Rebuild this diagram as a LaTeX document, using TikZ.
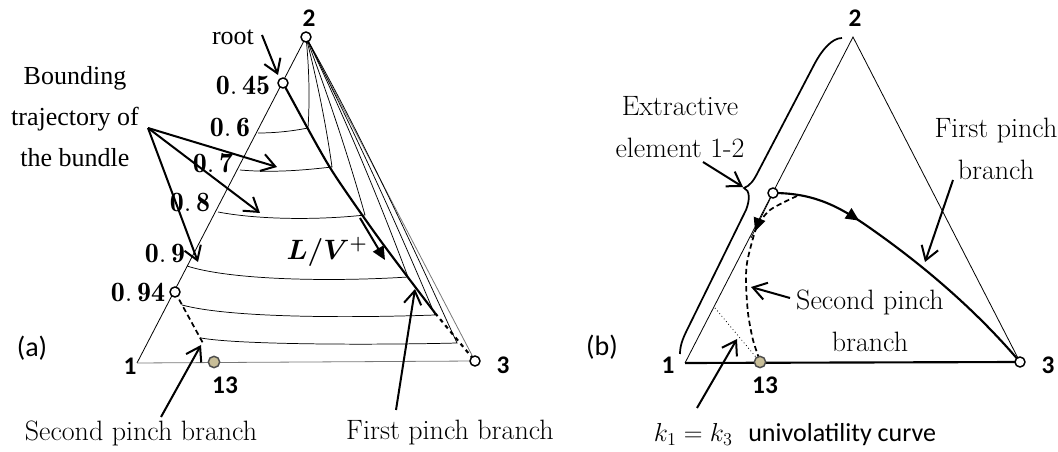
\RequirePackage{fix-cm}
\documentclass[tikz,border=0pt]{standalone}
\usepackage{amsmath,amssymb,bm}
\usepackage{fontspec}
\newfontfamily\timesfont{Liberation Serif}
\newfontfamily\calfont{Carlito}
\usetikzlibrary{arrows.meta,decorations.markings}
\definecolor{azeofill}{RGB}{200,190,152}
\definecolor{edgegray}{RGB}{120,120,120}
\tikzset{
  tri/.style   ={line width=0.6pt},
  traj/.style  ={line width=0.55pt},
  pinch/.style ={line width=1.6pt},
  ptr/.style   ={line width=1.5pt,-{Straight Barb[length=10pt,width=13pt]}},
  flow/.style  ={line width=1.5pt,-{Triangle[length=10pt,width=9pt]}},
  vtx/.style   ={circle,draw,fill=white,line width=1.1pt,inner sep=0pt,minimum size=7.5pt},
  azeo/.style  ={circle,draw=black!70,fill=azeofill,line width=1.1pt,inner sep=0pt,minimum size=8.5pt},
  num/.style   ={font=\fontsize{21}{24}\selectfont,inner sep=0pt},
  vlbl/.style  ={font=\calfont\bfseries\fontsize{19}{22}\selectfont,inner sep=0pt},
  note/.style  ={font=\fontsize{21}{31.5}\selectfont,align=center,inner sep=0pt},
  tnote/.style ={font=\timesfont\fontsize{19.5}{30.75}\selectfont,align=center,inner sep=0pt},
  panel/.style ={font=\calfont\fontsize{21}{24}\selectfont,inner sep=0pt},
}
\begin{document}
\begin{tikzpicture}[x=0.75pt,y=-0.75pt]
  \useasboundingbox (0,0) rectangle (1058,452);
  % (a) residue profile map
  \coordinate (a1) at (137,363);
  \coordinate (a2) at (306,37);
  \coordinate (a3) at (475,361);
  \coordinate (r45) at (283,83);
  \coordinate (p94) at (175,292);
  \coordinate (a13) at (214,362);
  \draw[tri] (a2) -- (a1);
  \draw[tri,edgegray] (a1) -- (a3) -- (a2);
  % bundle of trajectories
  \draw[traj] (258,133) .. controls (280,133) and (298,130) .. (308,128)
     .. controls (310,98) and (309,67) .. (a2);
  \draw[traj] (240,170) .. controls (275,173) and (305,170) .. (332,167)
     .. controls (326,124) and (317,80) .. (a2);
  \draw[traj] (218,212) .. controls (260,220) and (320,220) .. (365,215)
     .. controls (348,155) and (328,95) .. (a2);
  \draw[traj] (187,266) .. controls (230,280) and (330,282) .. (408,277)
     .. controls (378,197) and (344,115) .. (a2);
  \draw[traj] (182,305) .. controls (230,318) and (350,318) .. (435,315)
     .. controls (396,222) and (353,128) .. (a2);
  \draw[traj] (201,338) .. controls (240,345) and (380,345) .. (457,343)
     .. controls (410,240) and (361,135) .. (a2);
  % pinch branches
  \draw[pinch] plot[smooth] coordinates {(283,83) (318,147) (338,180) (380,240) (435,313)};
  \draw[pinch,dashed] (435,313) -- (a3);
  \draw[line width=1.3pt,dash pattern=on 4pt off 2.5pt] (p94) -- (204,345);
  \draw[flow] (360,218) -- (385,260);
  % points
  \node[vtx] (v2a) at (a2) {};
  \node[vtx] (v3a) at (a3) {};
  \node[vtx] (v45) at (r45) {};
  \node[vtx] (v94) at (p94) {};
  \node[azeo] (d13a) at (a13) {};
  % labels
  \node[vlbl] (l1a) at (130,366) {1};
  \node[vlbl] (l2a) at (309,18) {2};
  \node[vlbl] (l3a) at (503,365) {3};
  \node[vlbl] (l13a) at (225,385) {13};
  \node[num] (n45) at (243,85) {$\mathbf{0.\,45}$};
  \node[num] (n60) at (230,127) {$\mathbf{0.\,6}$};
  \node[num] (n70) at (213,163) {$\mathbf{0.\,7}$};
  \node[num] (n80) at (190,202) {$\mathbf{0.\,8}$};
  \node[num] (n90) at (165,253) {$\mathbf{0.\,9}$};
  \node[num] (n94) at (138,292) {$\mathbf{0.\,94}$};
  \node[num] (lv) at (327,252) {$\bm{L/V^{+}}$};
  \node[panel] (pa) at (32,348) {(a)};
  \node[tnote] (root) at (233,37) {root};
  \node[tnote] (bound) at (75,117) {Bounding\\trajectory of\\the bundle};
  \node[note] (spa) at (141,433) {Second pinch branch};
  \node[note] (fpa) at (450,433) {First pinch branch};
  % pointers
  \coordinate (bt) at (148,128);
  \coordinate (t07) at (277,167);
  \coordinate (t08) at (260,213);
  \coordinate (t09) at (198,262);
  \draw[ptr] (bt) -- (t07);
  \draw[ptr] (bt) -- (t08);
  \draw[ptr] (bt) -- (t09);
  \draw[ptr] (262,35) -- (278,75);
  \draw[ptr] (161,417) -- (201,345);
  \draw[ptr] (396,410) -- (415,289);

  % (b) pinch branches and extractive element
  \coordinate (b1) at (685,363);
  \coordinate (b2) at (853,37);
  \coordinate (b3) at (1020,362);
  \coordinate (bp) at (773,193);
  \coordinate (b13) at (760,362);
  \draw[tri] (b1) -- (b2) -- (b3);
  \draw[pinch] (b1) -- (b3);
  \draw[tri,dotted] (715,308) -- (b13);
  \draw[traj] (bp) -- (751,238);
  \draw[pinch,postaction={decorate},decoration={markings,
      mark=at position 0.3 with {\arrow{Triangle[length=10pt,width=9pt]}}}]
    (773,193) .. controls (815,193) and (840,207) .. (870,228)
    .. controls (930,270) and (980,315) .. (b3);
  \draw[line width=1.3pt,dash pattern=on 4pt off 2.5pt,postaction={decorate},
      decoration={markings,
      mark=at position 0.3 with {\arrow{Triangle[length=10pt,width=9pt]}}}]
    plot[smooth] coordinates {(797,196) (770,210) (757,227) (752,242) (747,263)
      (746,282) (748,313) (753,340) (760,361)};
  % brace
  \draw[line width=1.3pt] (842,38) .. controls (832,38) and (822,50) .. (815,63)
    -- (758,172) .. controls (754,180) and (750,186) .. (744,188)
    .. controls (750,190) and (750,200) .. (746,210)
    -- (688,328) .. controls (683,338) and (680,345) .. (680,354);
  \node[vtx] (vpb) at (bp) {};
  \node[vtx] (v3b) at (b3) {};
  \node[azeo] (d13b) at (b13) {};
  \node[vlbl] (l1b) at (668,365) {1};
  \node[vlbl] (l2b) at (855,18) {2};
  \node[vlbl] (l3b) at (1048,365) {3};
  \node[vlbl] (l13b) at (765,385) {13};
  \node[panel] (pb) at (602,347) {(b)};
  \node[note] (ext) at (680,127) {Extractive\\element 1-2};
  \node[note] (fpb) at (996,149) {First pinch\\branch};
  \node[note] (spb) at (870,321) {Second pinch\\branch};
  \node[note,font=\fontsize{19.5}{24}\selectfont] (uni) at (795,435)
    {$k_1 = k_3$~~{\calfont univolatility curve}};
  \draw[ptr] (703,162) -- (743,187);
  \draw[ptr] (953,180) -- (925,262);
  \draw[ptr] (790,298) -- (751,287);
  \draw[ptr] (697,408) -- (737,339);
\end{tikzpicture}
\end{document}
